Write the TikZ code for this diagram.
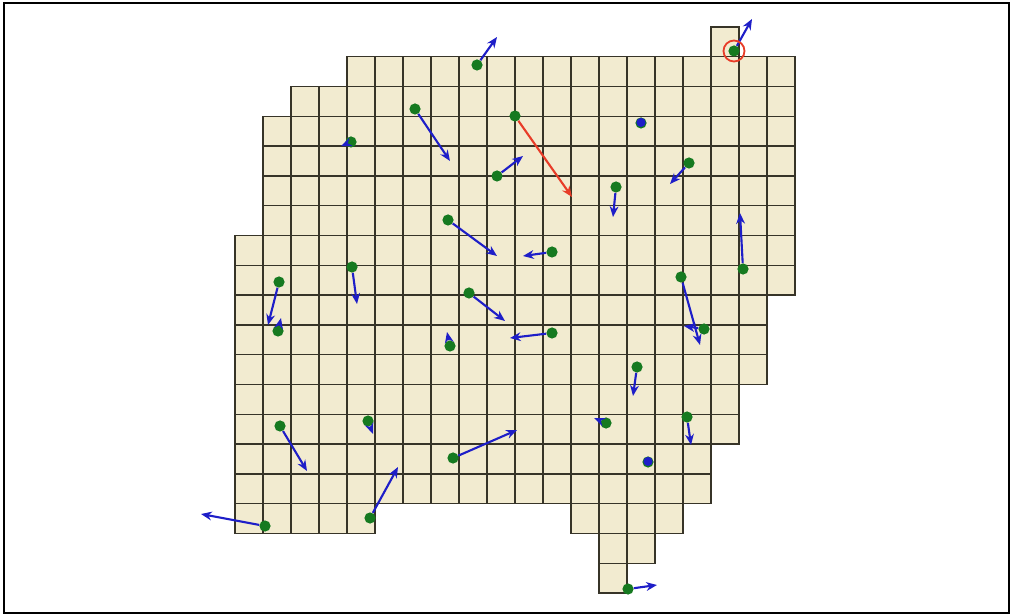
\documentclass[tikz,border=0pt]{standalone}
\usepackage{tikz}
\usetikzlibrary{arrows.meta}
\definecolor{cellfill}{RGB}{242,235,208}
\definecolor{gridline}{RGB}{55,52,40}
\definecolor{ptgreen}{RGB}{22,122,32}
\definecolor{vecblue}{RGB}{30,30,200}
\definecolor{vecred}{RGB}{232,60,40}
\tikzset{cell/.style={draw=gridline,fill=cellfill,line width=0.9pt},
  pt/.style={circle,fill=ptgreen,inner sep=0pt,minimum size=0.28cm},
  still/.style={circle,fill=vecblue,inner sep=0pt,minimum size=0.23cm},
  vec/.style={-{Stealth[length=2.7mm,width=2.2mm]},vecblue,line width=1.5pt},
  redvec/.style={vec,vecred}}

\begin{document}
\begin{tikzpicture}[x=0.025cm,y=-0.025cm]
\useasboundingbox (0,0) rectangle (1011,615);
\draw[line width=1.6pt] (4,3) rectangle (1009,613);
% cells, row by row: row/first col/last col
\foreach \r/\a/\b in {-1/17/17,0/4/19,1/2/19,2/1/19,3/1/19,4/1/19,5/1/19,6/0/19,7/0/19,8/0/18,9/0/18,10/0/18,
    11/0/17,12/0/17,13/0/16,14/0/16,15/0/4,15/12/15,16/13/14,17/13/13}
  \foreach \c in {\a,...,\b}
    \draw[cell] ({235+28*\c},{56.7+29.8*\r}) rectangle ++(28,29.8);
% sample points
\foreach \i/\x/\y in {1/477/65,2/734/51,3/415/109,4/515/116,5/641/123,6/351/142,7/497/176,8/689/163,9/616/187,10/448/220,
    11/552/252,12/743/269,13/279/282,14/352/267,15/469/293,16/681/277,17/278/331,18/704/329,19/552/333,20/450/346,
    21/637/367,22/280/426,23/368/421,24/606/423,25/687/417,26/453/458,27/648/462,28/265/526,29/370/518,30/628/589}
  \node[pt] (p\i) at (\x,\y) {};
\node[still] (s5) at ([yshift=0.4pt]p5.center) {};
\node[still] (s27) at ([yshift=0.4pt]p27.center) {};
% displacement vectors
\foreach \i/\u/\v in {1/497/37,2/752/19,3/450/161,6/341/146,7/523/156,8/670/184,9/613/217,10/497/256,
    11/523/256,12/740/213,13/268/325,14/357/304,15/505/321,16/700/345,17/281/318,18/684/326,19/510/338,20/447/332,
    21/633/396,22/307/471,23/373/434,24/594/418,25/691/445,26/517/430,28/201/514,29/398/467,30/657/585}
  {\coordinate (t\i) at (\u,\v); \draw[vec] (p\i) -- (t\i);}
\coordinate (t4) at (572,197); \draw[redvec] (p4) -- (t4);
\draw[vecred,line width=1.3pt] (p2) circle[radius=10.5];
\end{tikzpicture}
\end{document}
